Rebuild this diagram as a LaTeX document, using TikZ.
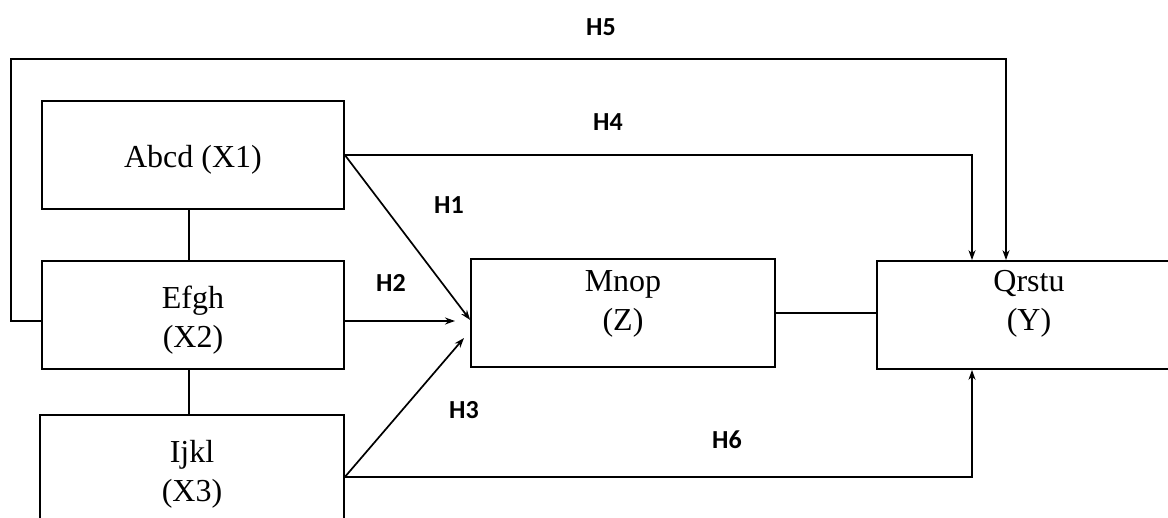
\documentclass[tikz,border=0pt]{standalone}
\usepackage{fontspec}
\setmainfont{Liberation Serif}
\newfontfamily\hfont{Carlito}
\usetikzlibrary{arrows.meta}
\begin{document}
\begin{tikzpicture}[x=1pt,y=-1pt,
    varbox/.style={draw,line width=1.7pt,minimum width=302pt,minimum height=108pt,inner sep=0pt},
    boxtext/.style={align=center,font=\fontsize{32}{39}\selectfont},
    hyp/.style={font=\hfont\bfseries\fontsize{26}{26}\selectfont},
    link/.style={line width=1.7pt},
    path/.style={line width=1.7pt,-{Stealth[length=10pt,width=7pt]}}]
    \useasboundingbox (0,0) rectangle (1168,518);

    \node[varbox,label={[boxtext,yshift=-5pt]center:Abcd (X1)}] (abcd) at (193,155) {};
    \node[varbox,label={[boxtext,yshift=-5pt]center:Efgh\\(X2)}] (efgh) at (193,315) {};
    \node[varbox,minimum width=304pt,label={[boxtext,yshift=-5pt]center:Ijkl\\(X3)}] (ijkl) at (192,469) {};
    \node[varbox,minimum width=304pt,label={[boxtext,yshift=9pt]center:Mnop\\(Z)}] (mnop) at (623,313) {};
    \node[varbox,minimum width=304pt,label={[boxtext,yshift=11pt]center:Qrstu\\(Y)}] (qrstu) at (1029,315) {};

    \draw[link] ([xshift=-4pt]abcd.south) -- ([xshift=-4pt]efgh.north);
    \draw[link] ([xshift=-4pt]efgh.south) -- ([xshift=-3pt]ijkl.north);
    \draw[link] (mnop.east) -- (mnop.east -| qrstu.west);

    \coordinate (h2end) at (455,321);
    \coordinate (h3end) at (464,338);
    \coordinate (h5left) at (11,321);

    \draw[path] (abcd.east) -- ([yshift=-7pt]mnop.west);
    \draw[path] ([yshift=-6pt]efgh.east) -- (h2end);
    \draw[path] ([yshift=-8pt]ijkl.east) -- (h3end);
    \draw[path] (abcd.east) -| ([xshift=-57pt]qrstu.north);
    \draw[path] ([yshift=-6pt]efgh.west) -- (h5left) |- (1006,59) -- ([xshift=-23pt]qrstu.north);
    \draw[path] ([yshift=-8pt]ijkl.east) -| ([xshift=-57pt]qrstu.south);

    \node[hyp] (h1) at (449,205) {H1};
    \node[hyp] (h2) at (391,283) {H2};
    \node[hyp] (h3) at (464,410) {H3};
    \node[hyp] (h4) at (608,122) {H4};
    \node[hyp] (h5) at (601,27) {H5};
    \node[hyp] (h6) at (727,440) {H6};
\end{tikzpicture}
\end{document}
